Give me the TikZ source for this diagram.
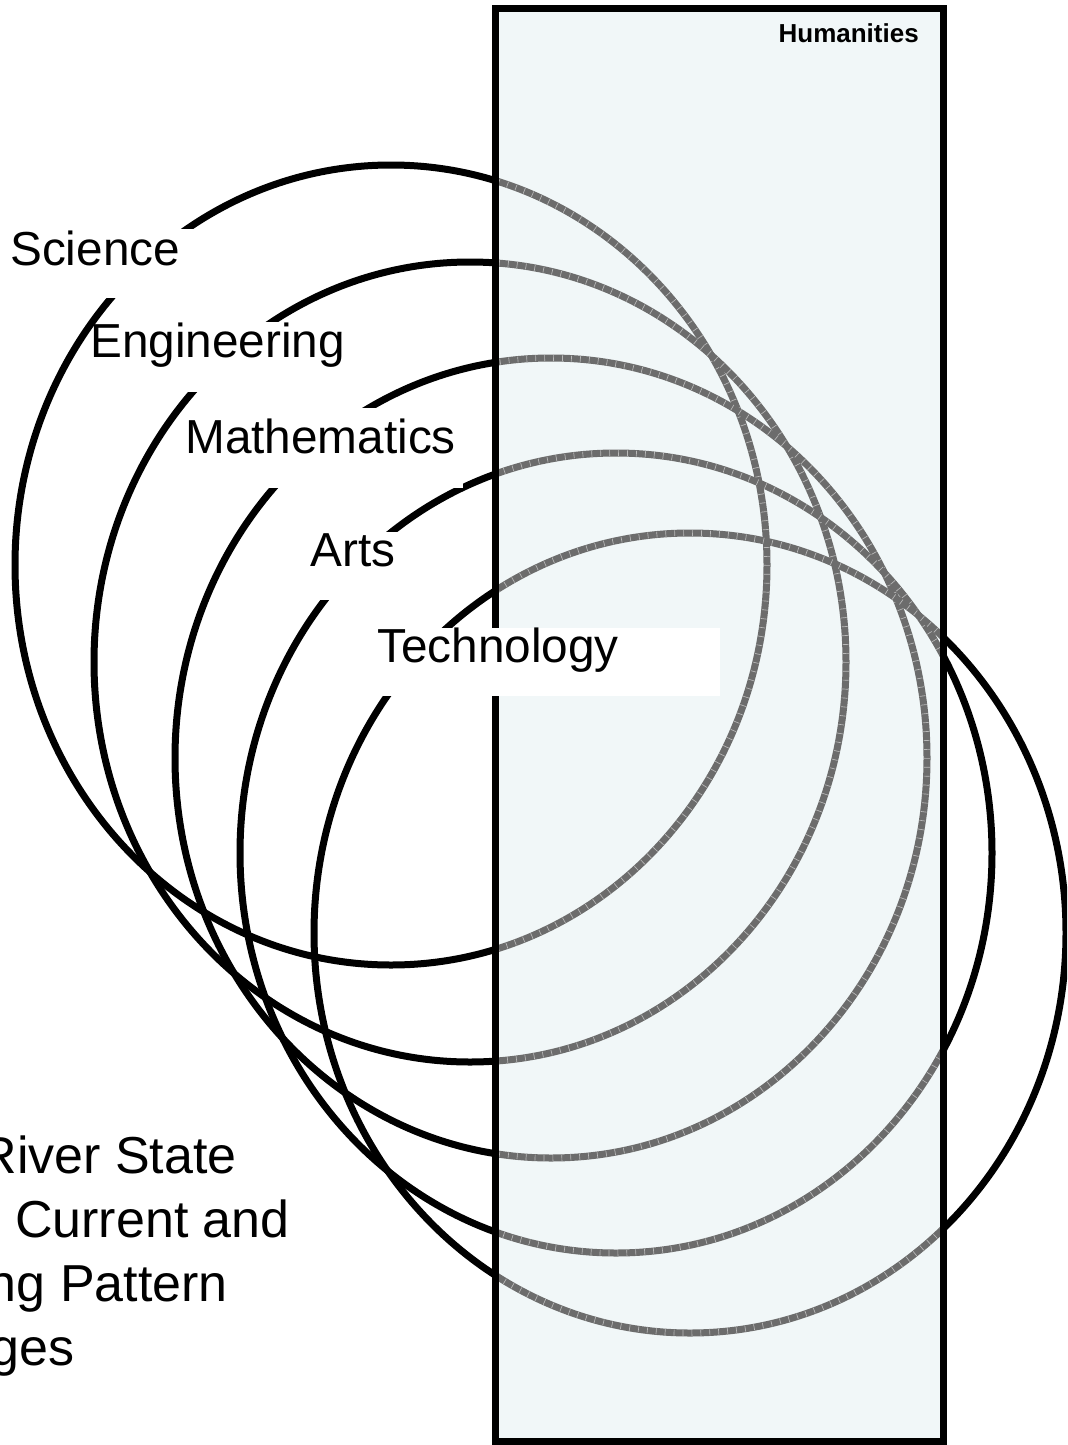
\documentclass[tikz,border=0pt]{standalone}
\usepackage{fontspec}
\setmainfont{Liberation Sans}
\definecolor{panelfill}{RGB}{241,247,248}
\definecolor{ringgray}{RGB}{108,108,108}
\definecolor{ringtex}{RGB}{185,185,185}
\tikzset{
  blackring/.style={draw=black, line width=5.25pt},
  grayring/.style={draw=ringgray, line width=5.25pt},
  graytex/.style={draw=ringtex, line width=4.5pt, dash pattern=on 0.5pt off 6.2pt},
  lbl/.style={inner sep=0pt, anchor=base west, font=\fontsize{35.8}{42}\selectfont},
  foot/.style={inner sep=0pt, anchor=base east, font=\fontsize{39}{48}\selectfont},
}
\begin{document}
\begin{tikzpicture}[x=0.75pt,y=-0.75pt]
\useasboundingbox (0,0) rectangle (1067,1445);
\clip (0,0) rectangle (1067,1445);
\fill[white] (0,0) rectangle (1067,1445);
% ellipse centres
\coordinate (c1) at (391,565);
\coordinate (c2) at (470,662);
\coordinate (c3) at (551,758);
\coordinate (c4) at (616,853);
\coordinate (c5) at (690,933);
% panel corners
\coordinate (pnw) at (495,9);
\coordinate (pse) at (943,1441);
% black rings
\foreach \c in {c1,c2,c3,c4,c5}
  \draw[blackring] (\c) ellipse [x radius=376, y radius=400];
% panel
\fill[panelfill] (pnw) rectangle (pse);
\begin{scope}
  \clip (pnw) rectangle (pse);
  \foreach \c in {c1,c2,c3,c4,c5}{
    \draw[grayring] (\c) ellipse [x radius=376, y radius=400];
    \draw[graytex] (\c) ellipse [x radius=376, y radius=400];
  }
\end{scope}
\draw[line width=5.25pt] (pnw) rectangle (pse);
\node[inner sep=0pt, anchor=base east, font=\bfseries\fontsize{19.5}{23}\selectfont] (hum) at (919,43) {Humanities};
% label masks
\fill[white] (0,229) rectangle (196,298);
\fill[white] (106,322) rectangle (352,392);
\fill[white] (188,408) rectangle (463,488);
\fill[white] (300,532) rectangle (405,600);
\fill[white] (365,628) rectangle (720,696);
% labels
\node[lbl] (sci) at (10,265) {Science};
\node[lbl] (eng) at (90,357) {Engineering};
\node[lbl] (mat) at (185,453) {Mathematics};
\node[lbl] (art) at (310,566) {Arts};
\node[lbl] (tec) at (377,662) {Technology};
% footnote text, cut by the left edge as in the reference
\node[foot] (f1) at (237,1173) {River State};
\node[foot] (f2) at (290,1237) {Current and};
\node[foot] (f3) at (228,1301) {ng Pattern};
\node[foot] (f4) at (75,1365) {ges};
\end{tikzpicture}
\end{document}
